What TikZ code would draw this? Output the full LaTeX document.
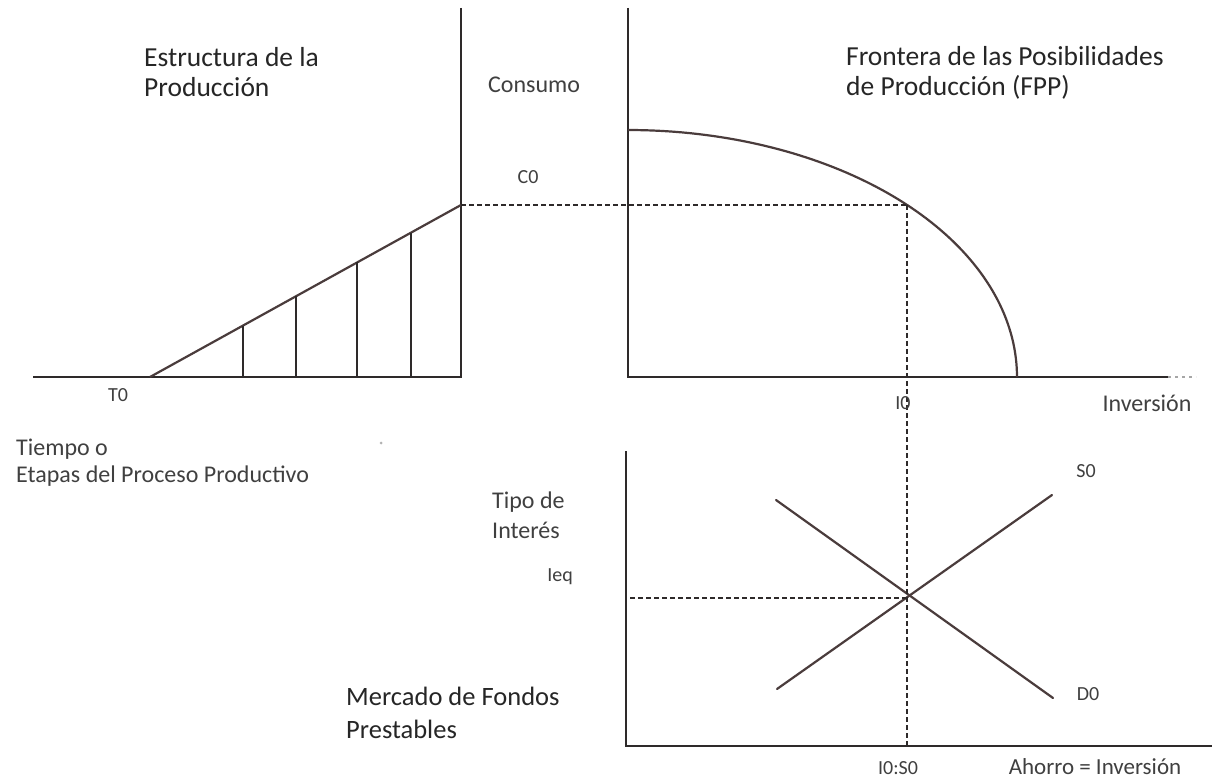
\documentclass[tikz,border=0pt]{standalone}
\usepackage{fontspec}
\setmainfont{Carlito}
\usetikzlibrary{calc}
\definecolor{axiscol}{HTML}{2E2A2A}
\definecolor{linecol}{HTML}{4A3C3C}
\definecolor{txtdark}{HTML}{262626}
\definecolor{txtgray}{HTML}{404040}
\begin{document}
\begin{tikzpicture}[x=1pt,y=-1pt,
  axisline/.style={draw=axiscol,line width=2.8pt},
  curveline/.style={draw=linecol,line width=2.2pt},
  guideline/.style={draw=axiscol,line width=2.8pt,dash pattern=on 5pt off 3pt},
  titletext/.style={font=\fontsize{27.5}{30}\selectfont,text=txtdark,align=left,inner sep=0pt,anchor=west},
  bigtext/.style={font=\fontsize{26.5}{33}\selectfont,text=txtdark,align=left,inner sep=0pt,anchor=west},
  labtext/.style={font=\fontsize{24}{27}\selectfont,text=txtgray,align=left,inner sep=0pt},
  smalltext/.style={font=\fontsize{20}{22}\selectfont,text=txtgray,inner sep=0pt}]
\useasboundingbox (0,0) rectangle (1212,783);
\fill[white] (0,0) rectangle (1212,783);

% ---------- top-left panel: Estructura de la Produccion
\coordinate (L1top) at (461,8);
\coordinate (L1o) at (461,377);
\coordinate (L1left) at (33,377);
\coordinate (T0pt) at (150,377);
\coordinate (C0pt) at (461,205);
\draw[axisline] (L1top) -- (L1o) -- (L1left);
\draw[curveline] (T0pt) -- (C0pt);
\foreach \t/\n in {0.299/a,0.469/b,0.666/c,0.839/d}{
  \coordinate (v\n) at ($(T0pt)!\t!(C0pt)$);
  \draw[axisline,line width=2.4pt] (v\n) -- (v\n |- L1o);
}

% ---------- top-right panel: FPP
\coordinate (R1top) at (628,8);
\coordinate (R1o) at (628,377);
\coordinate (R1right) at (1168,377);
\coordinate (R1dots) at (1196,377);
\coordinate (Ept) at (907,205);
\draw[axisline] (R1top) -- (R1o) -- (R1right);
\draw[draw=gray!70,line width=2.4pt,dash pattern=on 3pt off 4pt] (R1right) -- (R1dots);
\draw[curveline] plot[domain=0:90,samples=80] ({628+389*sin(\x)},{377-247*cos(\x)});

% ---------- bottom panel: Mercado de Fondos Prestables
\coordinate (B1top) at (626,451);
\coordinate (B1o) at (626,746);
\coordinate (B1right) at (1212,746);
\coordinate (Xpt) at (907,598);
\coordinate (Bbase) at (907,745);
\draw[axisline] (B1top) -- (B1o) -- (B1right);
\coordinate (DDa) at (776,500);
\coordinate (DDb) at (1053,698);
\coordinate (SOa) at (777,689);
\coordinate (SOb) at (1052,495);
\draw[curveline,line cap=round] (DDa) -- (DDb);
\draw[curveline,line cap=round] (SOa) -- (SOb);

% ---------- dashed guides
\draw[guideline] (C0pt) -- (Ept);
\draw[guideline] (Ept) -- (Bbase);
\coordinate (IeqL) at (630,598);
\draw[guideline] (IeqL) -- (Xpt);

% ---------- texts
\node[titletext] (t1) at (144,72) {Estructura de la\\Producción};
\node[titletext] (t2) at (846,73) {Frontera de las Posibilidades\\de Producción (FPP)};
\node[labtext,anchor=west] (cons) at (488,85) {Consumo};
\node[smalltext] (c0) at (528,177) {C0};
\node[smalltext] (t0) at (118,395) {T0};
\node[smalltext] (i0) at (903,403) {I0};
\node[labtext] (inv) at (1147,403) {Inversión};
\node[labtext,anchor=west] (tiempo) at (16,463) {Tiempo o\\Etapas del Proceso Productivo};
\node[circle,fill=gray!60,inner sep=0pt,minimum size=3pt] (dot) at (381,443) {};
\node[labtext,anchor=west,font=\fontsize{24}{30}\selectfont] (tipo) at (492,515) {Tipo de\\Interés};
\node[smalltext] (ieq) at (560,577) {Ieq};
\node[smalltext] (s0) at (1086,471) {S0};
\node[smalltext] (d0) at (1088,694) {D0};
\node[bigtext] (merc) at (346,713) {Mercado de Fondos\\Prestables};
\node[smalltext,anchor=base] (ios) at (898,774) {I0:S0};
\node[labtext,anchor=base,font=\fontsize{23}{25}\selectfont] (ahorro) at (1095,774) {Ahorro = Inversión};
\end{tikzpicture}
\end{document}
